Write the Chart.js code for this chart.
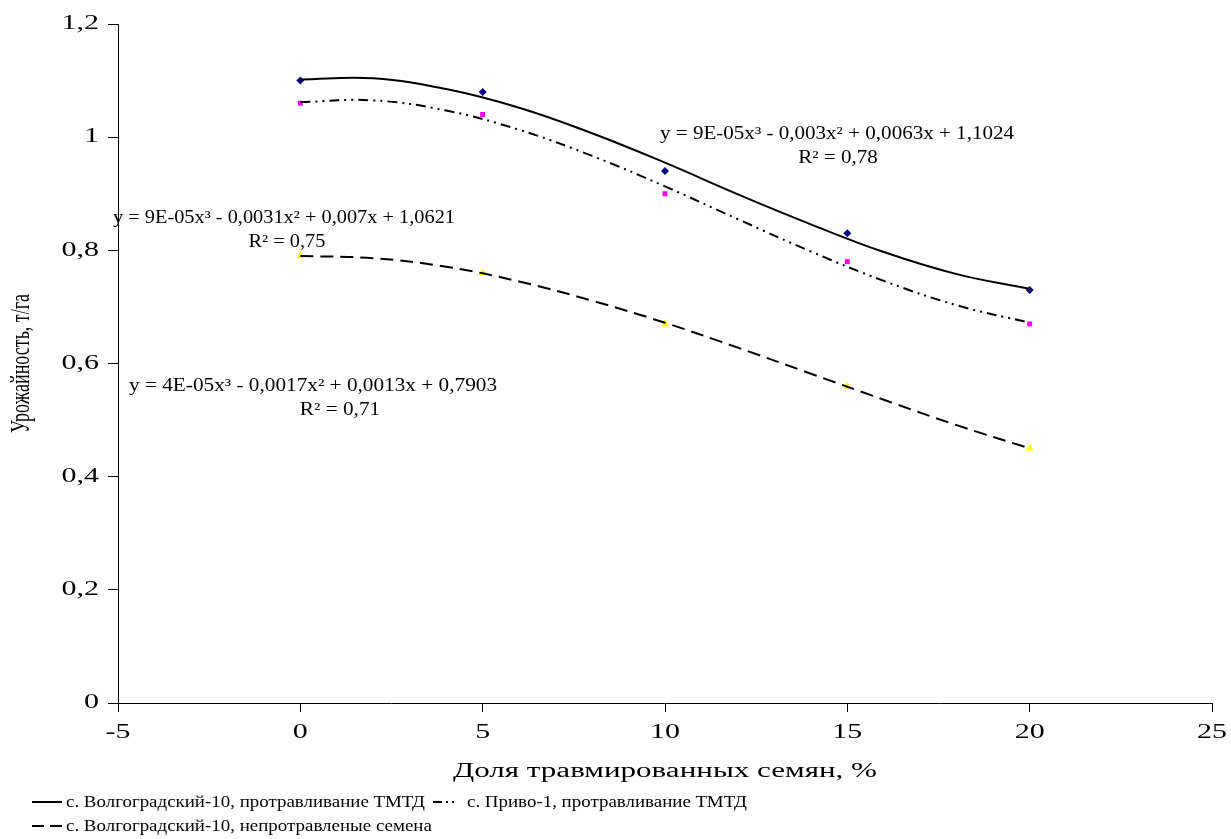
<!DOCTYPE html>
<html><head><meta charset="utf-8">
<script src="https://cdn.jsdelivr.net/npm/chart.js@4.4.1/dist/chart.umd.min.js"></script>
<style>html,body{margin:0;padding:0;background:#fff}#wrap{width:1231px;height:839px}canvas{display:block}</style>
</head><body><div id="wrap"><canvas id="c" width="1231" height="839"></canvas></div>
<script>
// ---------- data ----------
const xValues = [0, 5, 10, 15, 20];
const volgTreated = [1.10, 1.08, 0.94, 0.83, 0.73];
const privoTreated = [1.06, 1.04, 0.90, 0.78, 0.67];
const volgUntreated = [0.79, 0.76, 0.67, 0.56, 0.45];

const trendX = [0, 2, 4, 6, 8, 10, 12, 14, 16, 18, 20];
const trendVolgTreated = [1.102, 1.104, 1.085, 1.052, 1.007, 0.955, 0.899, 0.846, 0.797, 0.758, 0.732];
const trendPrivoTreated = [1.062, 1.065, 1.047, 1.013, 0.967, 0.913, 0.855, 0.798, 0.746, 0.703, 0.672];
const trendVolgUntreated = [0.790, 0.786, 0.771, 0.745, 0.711, 0.672, 0.628, 0.582, 0.536, 0.491, 0.450];

const xTickValues = [-5, 0, 5, 10, 15, 20, 25];
const xTickLabels = ['-5', '0', '5', '10', '15', '20', '25'];
const yTickValues = [0, 0.2, 0.4, 0.6, 0.8, 1, 1.2];
const yTickLabels = ['0', '0,2', '0,4', '0,6', '0,8', '1', '1,2'];

const seriesNames = [
  'с. Волгоградский-10, протравливание ТМТД',
  'с. Приво-1, протравливание ТМТД',
  'с. Волгоградский-10, непротравленые семена'
];
const xTitle = 'Доля травмированных семян, %';
const yTitle = 'Урожайность, т/га';
const eqVolgTreated = ['y = 9E-05x³ - 0,003x² + 0,0063x + 1,1024', 'R² = 0,78'];
const eqPrivoTreated = ['y = 9E-05x³ - 0,0031x² + 0,007x + 1,0621', 'R² = 0,75'];
const eqVolgUntreated = ['y = 4E-05x³ - 0,0017x² + 0,0013x + 0,7903', 'R² = 0,71'];

// ---------- horizontally stretched text (as in the source picture) ----------
const SERIF = '"Liberation Serif","Times New Roman",serif';
const SX_DEFAULT = 1.5;
const sxMap = {};
let sxOverride = null;
const _fill = CanvasRenderingContext2D.prototype.fillText;
CanvasRenderingContext2D.prototype.fillText = function (text, x, y) {
  const sx = sxOverride != null ? sxOverride : (sxMap[text] != null ? sxMap[text] : SX_DEFAULT);
  if (sx === 1) return _fill.call(this, text, x, y);
  const m = this.getTransform();
  const ax = m.a * x + m.c * y + m.e;
  this.save();
  this.setTransform(new DOMMatrix([sx, 0, 0, 1, ax - sx * ax, 0]).multiply(m));
  _fill.call(this, text, x, y);
  this.restore();
};

const canvas = document.getElementById('c');
const ctx = canvas.getContext('2d');
function natW(text, font) { ctx.save(); ctx.font = font; const w = ctx.measureText(text).width; ctx.restore(); return w; }
sxMap[xTitle] = 424 / natW(xTitle, '20px ' + SERIF);
sxMap[yTitle] = 1.5;

// ---------- overlays: trendline labels and legend ----------
function drawLabel(c, lines, left, baseline, width, gap, r2center) {
  const font = '18px ' + SERIF;
  c.save();
  c.font = font; c.fillStyle = '#000'; c.textAlign = 'left'; c.textBaseline = 'alphabetic';
  const w0 = c.measureText(lines[0]).width;
  const sx = width / w0;
  sxOverride = sx;
  c.fillText(lines[0], left, baseline);
  const w1 = c.measureText(lines[1]).width * sx;
  c.fillText(lines[1], r2center - w1 / 2, baseline + gap);
  sxOverride = null;
  c.restore();
}
function legendIcon(c, x0, x1, y, dash) {
  c.save();
  c.strokeStyle = '#000'; c.lineWidth = 2; c.setLineDash(dash);
  c.beginPath(); c.moveTo(x0, y); c.lineTo(x1, y); c.stroke();
  c.restore();
}
const overlay = {
  id: 'overlay',
  afterDraw(chart) {
    const c = chart.ctx;
    drawLabel(c, eqVolgTreated, 660, 139, 354, 24, 838);
    drawLabel(c, eqPrivoTreated, 113, 223, 342, 24, 287);
    drawLabel(c, eqVolgUntreated, 129, 391, 368, 24, 340);
    // legend
    c.save();
    const font = '16px ' + SERIF;
    c.font = font; c.fillStyle = '#000'; c.textBaseline = 'middle'; c.textAlign = 'left';
    const sx = 359 / c.measureText(seriesNames[0]).width;
    sxOverride = sx;
    legendIcon(c, 32, 62, 802, []);
    c.fillText(seriesNames[0], 66, 803);
    legendIcon(c, 433, 463, 802, [9, 4, 2, 4, 2, 9]);
    c.fillText(seriesNames[1], 467, 803);
    legendIcon(c, 32, 62, 826, [12, 6]);
    c.fillText(seriesNames[2], 66, 827);
    sxOverride = null;
    c.restore();
  }
};

const pts = arr => xValues.map((x, i) => ({ x, y: arr[i] }));
const tr = arr => trendX.map((x, i) => ({ x, y: arr[i] }));
const tickFont = { family: SERIF, size: 20 };

new Chart(ctx, {
  type: 'scatter',
  data: {
    datasets: [
      { label: seriesNames[0] + ' тренд', data: tr(trendVolgTreated), showLine: true, borderColor: '#000', borderWidth: 2, pointRadius: 0, tension: 0.4, fill: false, order: 1 },
      { label: seriesNames[1] + ' тренд', data: tr(trendPrivoTreated), showLine: true, borderColor: '#000', borderWidth: 2, borderDash: [10, 5, 2, 5, 2, 5], pointRadius: 0, tension: 0.4, fill: false, order: 1 },
      { label: seriesNames[2] + ' тренд', data: tr(trendVolgUntreated), showLine: true, borderColor: '#000', borderWidth: 2, borderDash: [13, 7], pointRadius: 0, tension: 0.4, fill: false, order: 1 },
      { label: seriesNames[0], data: pts(volgTreated), showLine: false, pointStyle: 'rectRot', pointRadius: 4, backgroundColor: '#000080', borderColor: '#000080', borderWidth: 0, order: 2 },
      { label: seriesNames[1], data: pts(privoTreated), showLine: false, pointStyle: 'rect', pointRadius: 3.5, backgroundColor: '#FF00FF', borderColor: '#FF00FF', borderWidth: 0, order: 2 },
      { label: seriesNames[2], data: pts(volgUntreated), showLine: false, pointStyle: 'triangle', pointRadius: 4.5, backgroundColor: '#FFFF00', borderColor: '#FFFF00', borderWidth: 0, order: 2 }
    ]
  },
  options: {
    responsive: false,
    animation: false,
    events: [],
    layout: { padding: { left: 0, right: 18, top: 24, bottom: 46 } },
    plugins: { legend: { display: false }, tooltip: { enabled: false } },
    scales: {
      x: {
        type: 'linear', min: -5, max: 25,
        afterBuildTicks: s => { s.ticks = xTickValues.map(v => ({ value: v })); },
        ticks: { callback: (v, i) => xTickLabels[i], font: tickFont, color: '#000', padding: 9, maxRotation: 0, autoSkip: false },
        grid: { display: true, drawOnChartArea: false, drawTicks: true, tickLength: 9, color: '#000', lineWidth: 1 },
        border: { display: true, color: '#000', width: 1 },
        title: { display: true, text: xTitle, font: { family: SERIF, size: 20 }, color: '#000', padding: { top: 0, bottom: 9 } },
        afterFit: s => { s.height = 90; }
      },
      y: {
        type: 'linear', min: 0, max: 1.2,
        afterBuildTicks: s => { s.ticks = yTickValues.map(v => ({ value: v })); },
        ticks: { callback: (v, i) => yTickLabels[i], font: tickFont, color: '#000', padding: 9, autoSkip: false },
        grid: { display: true, drawOnChartArea: false, drawTicks: true, tickLength: 10, color: '#000', lineWidth: 1 },
        border: { display: true, color: '#000', width: 1 },
        title: { display: true, text: yTitle, font: { family: SERIF, size: 18 }, color: '#000', padding: { top: 11, bottom: 0 } },
        afterFit: s => { s.width = 118; }
      }
    }
  },
  plugins: [overlay]
});
</script>
</body></html>
